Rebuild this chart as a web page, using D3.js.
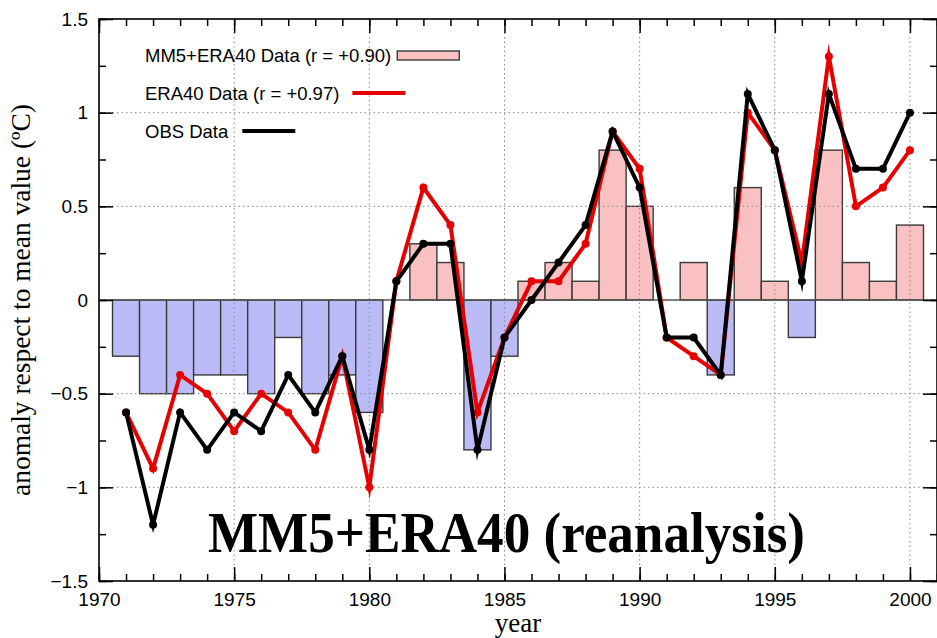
<!DOCTYPE html>
<html>
<head>
<meta charset="utf-8">
<script src="https://cdn.jsdelivr.net/npm/d3@7"></script>
<style>
  body { margin: 0; background: #fff; }
  svg { display: block; }
  .tick text { font-family: "Liberation Sans", Arial, sans-serif; font-size: 19px; fill: #000; }
</style>
</head>
<body>
<svg id="chart" width="937" height="638"></svg>
<script>
// data
var years = d3.range(1971, 2001);
var mm5Era40 = [-0.3, -0.5, -0.5, -0.4, -0.4, -0.5, -0.2, -0.5, -0.4, -0.6,
                 0.0,  0.3,  0.2, -0.8, -0.3,  0.1,  0.2,  0.1,  0.8,  0.5,
                 0.0,  0.2, -0.4,  0.6,  0.1, -0.2,  0.8,  0.2,  0.1,  0.4];
var era40 = [-0.6, -0.9, -0.4, -0.5, -0.7, -0.5, -0.6, -0.8, -0.3, -1.0,
              0.1,  0.6,  0.4, -0.6, -0.2,  0.1,  0.1,  0.3,  0.9,  0.7,
             -0.2, -0.3, -0.4,  1.0,  0.8,  0.2,  1.3,  0.5,  0.6,  0.8];
var obs = [-0.6, -1.2, -0.6, -0.8, -0.6, -0.7, -0.4, -0.6, -0.3, -0.8,
            0.1,  0.3,  0.3, -0.8, -0.2,  0.0,  0.2,  0.4,  0.9,  0.6,
           -0.2, -0.2, -0.4,  1.1,  0.8,  0.1,  1.1,  0.7,  0.7,  1.0];
var xMajor = [1970, 1975, 1980, 1985, 1990, 1995, 2000];
var xMinor = d3.range(1970, 2002);
var yMajor = [-1.5, -1, -0.5, 0, 0.5, 1, 1.5];
var yMinor = d3.range(-1.5, 1.51, 0.25);
var legendLabels = ["MM5+ERA40 Data (r = +0.90)", "ERA40 Data (r = +0.97)", "OBS Data"];

var svg = d3.select("#chart");
var plotL = 99, plotR = 937, plotT = 19, plotB = 581;

var x = d3.scaleLinear().domain([1970, 2001]).range([plotL, plotR]);
var y = d3.scaleLinear().domain([-1.5, 1.5]).range([plotB, plotT]);

var pink = "#f9c1c1", blue = "#bbbbf7", red = "#e60000";

// bars
svg.append("g").selectAll("rect")
  .data(years)
  .enter().append("rect")
  .attr("x", function(d){ return x(d - 0.5); })
  .attr("width", function(d){ return x(d + 0.5) - x(d - 0.5); })
  .attr("y", function(d, i){ return y(Math.max(0, mm5Era40[i])); })
  .attr("height", function(d, i){ return Math.abs(y(mm5Era40[i]) - y(0)); })
  .attr("fill", function(d, i){ return mm5Era40[i] >= 0 ? pink : blue; })
  .attr("stroke", "#3a3a3a")
  .attr("stroke-width", 1.4);

// dotted grid
var grid = svg.append("g").attr("stroke", "#888").attr("stroke-width", 1).attr("stroke-dasharray", "1.5,3");
grid.selectAll(".gx").data(xMajor.slice(1)).enter().append("line")
  .attr("x1", function(d){ return x(d); }).attr("x2", function(d){ return x(d); })
  .attr("y1", plotT).attr("y2", plotB);
grid.selectAll(".gy").data([-1, -0.5, 0.5, 1]).enter().append("line")
  .attr("x1", plotL).attr("x2", plotR)
  .attr("y1", function(d){ return y(d); }).attr("y2", function(d){ return y(d); });

// zero axis
svg.append("line")
  .attr("x1", plotL).attr("x2", plotR)
  .attr("y1", y(0)).attr("y2", y(0))
  .attr("stroke", "#555").attr("stroke-width", 1.5);

// lines with points
function drawSeries(values, color) {
  var line = d3.line()
    .x(function(d, i){ return x(years[i]); })
    .y(function(d){ return y(d); });
  svg.append("path")
    .datum(values)
    .attr("d", line)
    .attr("fill", "none")
    .attr("stroke", color)
    .attr("stroke-width", 4)
    .attr("stroke-linejoin", "miter")
    .attr("stroke-miterlimit", 10);
  svg.append("g").selectAll("circle")
    .data(values)
    .enter().append("circle")
    .attr("cx", function(d, i){ return x(years[i]); })
    .attr("cy", function(d){ return y(d); })
    .attr("r", 4)
    .attr("fill", color);
}
drawSeries(era40, red);
drawSeries(obs, "#000");

// axes: ticks point inward
function clean(g) { g.select(".domain").remove(); g.selectAll(".tick line").attr("stroke", "#000").attr("stroke-width", 1.5); }

svg.append("g").attr("transform", "translate(0," + plotB + ")")
  .call(d3.axisBottom(x).tickValues(xMinor).tickSize(-7).tickFormat("")).call(clean);
svg.append("g").attr("transform", "translate(0," + plotB + ")")
  .call(d3.axisBottom(x).tickValues(xMajor).tickSize(-14).tickPadding(12).tickFormat(d3.format("d"))).call(clean);
svg.append("g").attr("transform", "translate(0," + plotT + ")")
  .call(d3.axisTop(x).tickValues(xMinor).tickSize(-7).tickFormat("")).call(clean);
svg.append("g").attr("transform", "translate(0," + plotT + ")")
  .call(d3.axisTop(x).tickValues(xMajor).tickSize(-14).tickFormat("")).call(clean);

var yFmt = function(d){ return d === 0 ? "0" : (d < 0 ? "\u2212" : "") + Math.abs(d); };
svg.append("g").attr("transform", "translate(" + plotL + ",0)")
  .call(d3.axisLeft(y).tickValues(yMinor).tickSize(-7).tickFormat("")).call(clean);
svg.append("g").attr("transform", "translate(" + plotL + ",0)")
  .call(d3.axisLeft(y).tickValues(yMajor).tickSize(-14).tickPadding(11).tickFormat(yFmt)).call(clean);
svg.append("g").attr("transform", "translate(" + plotR + ",0)")
  .call(d3.axisRight(y).tickValues(yMinor).tickSize(-7).tickFormat("")).call(clean);
svg.append("g").attr("transform", "translate(" + plotR + ",0)")
  .call(d3.axisRight(y).tickValues(yMajor).tickSize(-14).tickFormat("")).call(clean);

// frame
svg.append("rect")
  .attr("x", plotL).attr("y", plotT)
  .attr("width", plotR - plotL).attr("height", plotB - plotT)
  .attr("fill", "none").attr("stroke", "#000").attr("stroke-width", 1.6);

// legend
var legend = svg.append("g")
  .attr("font-family", "Liberation Sans, Arial, sans-serif")
  .attr("font-size", 18.5);
var rowY = [62, 100, 138];
var gaps = [6, 13, 14];
legendLabels.forEach(function(lbl, i){
  var t = legend.append("text").attr("x", 145).attr("y", rowY[i]).text(lbl);
  var x0 = 145 + t.node().getComputedTextLength() + gaps[i];
  if (i === 0) {
    legend.append("rect").attr("x", x0).attr("y", rowY[i] - 11).attr("width", 62).attr("height", 9)
      .attr("fill", pink).attr("stroke", "#3a3a3a").attr("stroke-width", 1.4);
  } else {
    legend.append("line").attr("x1", x0).attr("x2", x0 + 53)
      .attr("y1", rowY[i] - 7).attr("y2", rowY[i] - 7)
      .attr("stroke", i === 1 ? red : "#000").attr("stroke-width", 4);
  }
});

// axis titles
svg.append("text")
  .attr("transform", "translate(30,300) rotate(-90)")
  .attr("text-anchor", "middle")
  .attr("font-family", "Liberation Serif, Times New Roman, serif")
  .attr("font-size", 27)
  .attr("textLength", 392)
  .attr("lengthAdjust", "spacingAndGlyphs")
  .text("anomaly respect to mean value (\u00baC)");
svg.append("text")
  .attr("x", 518).attr("y", 632)
  .attr("text-anchor", "middle")
  .attr("font-family", "Liberation Serif, Times New Roman, serif")
  .attr("font-size", 27)
  .text("year");

// big overlay label
svg.append("text")
  .attr("x", 208).attr("y", 552)
  .attr("font-family", "Liberation Serif, Times New Roman, serif")
  .attr("font-weight", "bold")
  .attr("font-size", 56)
  .attr("textLength", 597)
  .attr("lengthAdjust", "spacingAndGlyphs")
  .text("MM5+ERA40 (reanalysis)");
</script>
</body>
</html>
